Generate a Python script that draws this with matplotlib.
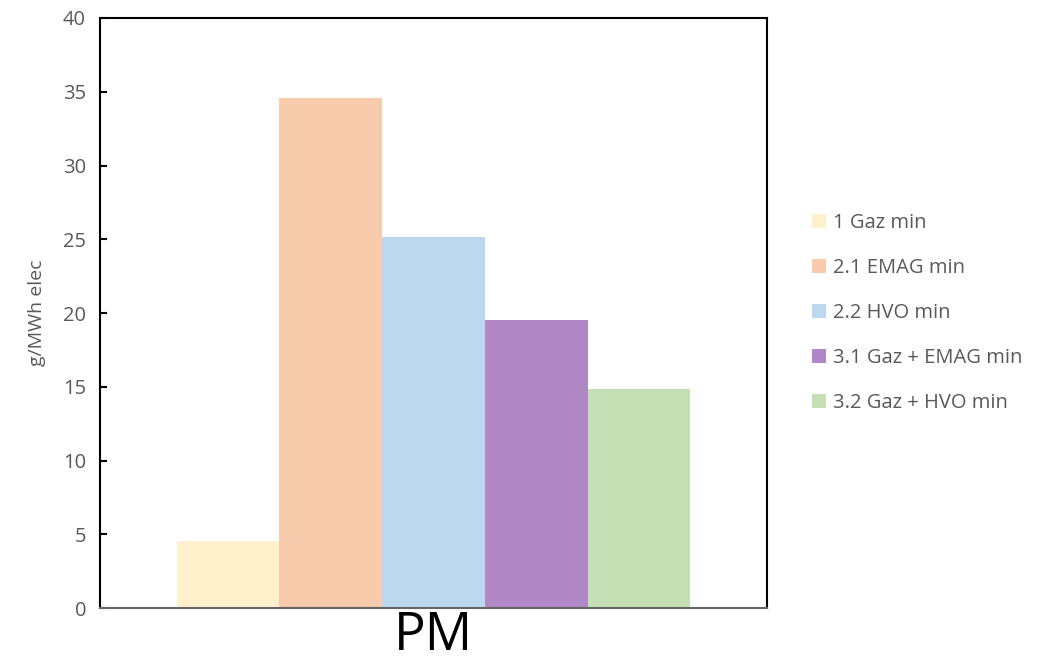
import matplotlib.pyplot as plt
import numpy as np

categories = ["PM"]
series = ["1 Gaz min", "2.1 EMAG min", "2.2 HVO min", "3.1 Gaz + EMAG min", "3.2 Gaz + HVO min"]
values = [4.55, 34.6, 25.15, 19.55, 14.85]
colors = ["#FFF0CC", "#F7CBAC", "#BDD7EE", "#B088C6", "#C5E0B4"]

plt.rcParams['font.family'] = ['Open Sans', 'DejaVu Sans']
txt = "#595959"

fig = plt.figure(figsize=(10.5, 6.64), dpi=100)
ax = fig.add_axes([0.0952, 0.0843, 0.6353, 0.8886])

w = 0.154
x = np.arange(len(categories))
for i, (name, v, c) in enumerate(zip(series, values, colors)):
    ax.bar(x + (i - 2) * w, [v], width=w, color=c, label=name)

ax.set_xlim(-0.5, 0.5)
ax.set_ylim(0, 40)
ax.set_yticks(range(0, 41, 5))
ax.set_xticks(x)
ax.set_xticklabels(categories, fontsize=38, color="black")
ax.tick_params(axis='x', length=0, pad=1)
ax.tick_params(axis='y', direction='in', length=5, width=1.5, labelsize=14.5,
               labelcolor=txt, pad=10)
for s in ax.spines.values():
    s.set_linewidth(1.5)
    s.set_color("black")
ax.spines['bottom'].set_color("#666666")
ax.set_ylabel("g/MWh elec", fontsize=14, color=txt, labelpad=12)

ax.legend(loc='center left', bbox_to_anchor=(1.04, 0.5), frameon=False,
          fontsize=14.5, labelcolor=txt, handlelength=0.7, handleheight=0.7,
          handletextpad=0.35, labelspacing=1.25)

fig.savefig("out.png", dpi=100)
